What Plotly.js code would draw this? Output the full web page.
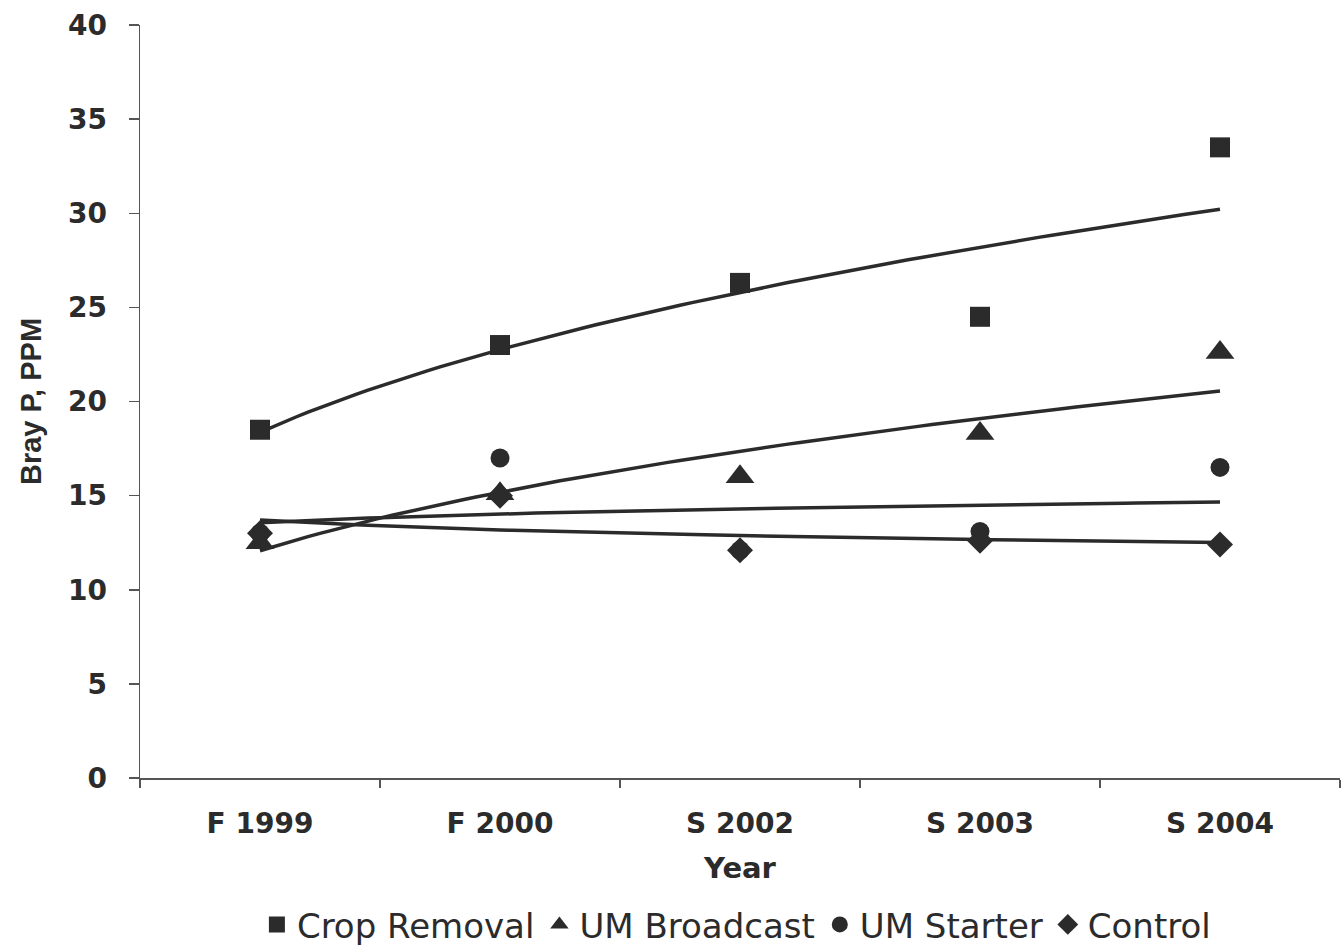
<!DOCTYPE html>
<html>
<head>
<meta charset="utf-8">
<script src="https://cdn.plot.ly/plotly-3.0.1.min.js"></script>
<style>
html,body{margin:0;padding:0;background:#fff;}
#chart{width:1341px;height:945px;}
</style>
</head>
<body>
<div id="chart"></div>
<script>
const categories = ["F 1999", "F 2000", "S 2002", "S 2003", "S 2004"];
const cropRemoval = [18.5, 23.0, 26.3, 24.5, 33.5];
const umBroadcast = [12.5, 15.1, 16.0, 18.3, 22.6];
const umStarter   = [13.0, 17.0, 12.1, 13.1, 16.5];
const control     = [13.0, 15.0, 12.1, 12.6, 12.4];
const yTicks = [0, 5, 10, 15, 20, 25, 30, 35, 40];

const seriesNames = ["Crop Removal", "UM Broadcast", "UM Starter", "Control"];
const seriesData = [cropRemoval, umBroadcast, umStarter, control];
const symbols = ["square", "triangle-up", "circle", "diamond"];
const sizes = [20, 25, 19, 20];

const xIdx = categories.map((c, i) => i + 1);
const ink = "#2b2b2b";

// power trendline fit (y = b * x^a), as a spreadsheet power trendline does
function powerFit(ys) {
  const lx = xIdx.map(Math.log), ly = ys.map(Math.log);
  const n = ys.length;
  const mx = lx.reduce((s, v) => s + v, 0) / n;
  const my = ly.reduce((s, v) => s + v, 0) / n;
  let sxy = 0, sxx = 0;
  for (let i = 0; i < n; i++) { sxy += (lx[i] - mx) * (ly[i] - my); sxx += (lx[i] - mx) ** 2; }
  const a = sxy / sxx, b = Math.exp(my - a * mx);
  const xs = [], yv = [];
  for (let k = 0; k <= 80; k++) { const x = 1 + 4 * k / 80; xs.push(x); yv.push(b * Math.pow(x, a)); }
  return {xs, yv};
}

const traces = [];
seriesData.forEach((ys) => {
  const f = powerFit(ys);
  traces.push({x: f.xs, y: f.yv, mode: "lines", line: {color: ink, width: 3.5},
    showlegend: false, hoverinfo: "skip"});
});
seriesData.forEach((ys, i) => {
  traces.push({x: xIdx, y: ys, mode: "markers", name: seriesNames[i],
    marker: {symbol: symbols[i], size: sizes[i], color: ink}});
});

const layout = {
  width: 1341, height: 945,
  margin: {l: 140, r: 1, t: 25, b: 167, autoexpand: false},
  paper_bgcolor: "#fff", plot_bgcolor: "#fff",
  showlegend: true,
  legend: {orientation: "h", x: 0.497, xanchor: "center", y: -0.195, yanchor: "middle",
    font: {family: "DejaVu Sans", size: 34, color: ink}, itemsizing: "trace",
    tracegroupgap: 0, itemwidth: 30},
  xaxis: {
    range: [0.5, 5.5], tickvals: xIdx, ticktext: categories, ticks: "",
    showgrid: false, zeroline: false, showline: true, linecolor: "#555", linewidth: 1.5,
    tickfont: {family: "DejaVu Sans", size: 28, color: ink, weight: "bold"},
    ticklabelstandoff: 20,
    minor: {tick0: 0.5, dtick: 1, ticks: "outside", ticklen: 8, tickcolor: "#555", tickwidth: 1.5, showgrid: false},
    title: {text: "<b>Year</b>", font: {family: "DejaVu Sans", size: 29, color: ink}, standoff: 18},
    fixedrange: true
  },
  yaxis: {
    range: [0, 40], tickvals: yTicks, ticks: "outside", ticklen: 10, tickcolor: "#555", tickwidth: 1.5,
    showgrid: false, zeroline: false, showline: true, linecolor: "#555", linewidth: 1.5,
    tickfont: {family: "DejaVu Sans", size: 28, color: ink, weight: "bold"},
    ticklabelstandoff: 16,
    title: {text: "<b>Bray P, PPM</b>", font: {family: "Liberation Sans", size: 29, color: ink}, standoff: 18},
    fixedrange: true
  }
};

Plotly.newPlot("chart", traces, layout, {displayModeBar: false, staticPlot: true});
</script>
</body>
</html>
